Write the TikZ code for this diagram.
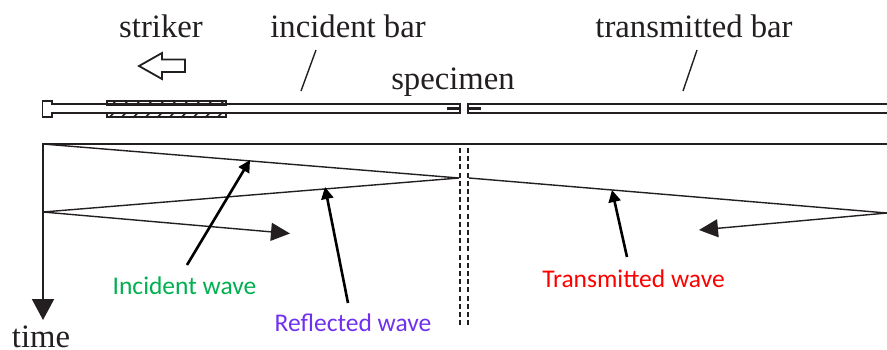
\documentclass[tikz,border=0pt]{standalone}
\usepackage{fontspec}
\setmainfont{Liberation Serif}
\newfontfamily\calib{Carlito}
\usetikzlibrary{arrows.meta}
\definecolor{inkk}{HTML}{231F20}
\definecolor{incgreen}{HTML}{00B050}
\definecolor{refpurple}{HTML}{7030F0}
\tikzset{
  x=1bp,y=-1bp,
  serlabel/.style={font=\fontsize{32.7bp}{34bp}\selectfont,text=inkk,inner sep=0pt,anchor=base},
  collabel/.style={font=\calib\fontsize{25.5bp}{27bp}\selectfont,inner sep=0pt,anchor=base},
  barline/.style={draw=inkk,line width=1.7bp},
  thickline/.style={draw=inkk,line width=2.4bp},
  waveline/.style={draw=inkk,line width=1.4bp},
  wavearrow/.style={waveline,-{Triangle[length=19bp,width=18bp]}},
  pointer/.style={draw=black,line width=2.6bp,-{Triangle[length=12bp,width=12bp]}},
  slashline/.style={draw=inkk,line width=1.4bp},
  dashline/.style={draw=inkk,line width=1.8bp,dash pattern=on 5bp off 3.2bp},
}
\begin{document}
\begin{tikzpicture}
\useasboundingbox (0,0) rectangle (887,349);
% labels
\node[serlabel] (striker) at (161,37) {striker};
\node[serlabel] (incbar) at (348,37) {incident bar};
\node[serlabel] (spec) at (453,89) {specimen};
\node[serlabel] (trbar) at (694,37) {transmitted bar};
\node[serlabel] (timel) at (41,347) {time};
\node[collabel,text=incgreen] (incw) at (184.5,294) {Incident wave};
\node[collabel,text=refpurple] (refw) at (353,331) {Reflected wave};
\node[collabel,text=red] (trw) at (633.5,287) {Transmitted wave};
% hollow arrow
\draw[barline,line width=1.8bp,fill=white] (139,66) -- (162,53) -- (162,59.5) -- (185,59.5) -- (185,72) -- (162,72) -- (162,79) -- cycle;
% striker sleeve
\draw[barline,line width=1.6bp] (107,100.7) rectangle (226,105);
\draw[barline,line width=1.6bp] (107,112.7) rectangle (226,116.7);
\foreach \xx in {112,124,136,148,160,172,184,196,208,220}{
  \draw[barline,line width=1.6bp] (\xx,105) -- (\xx+4,100.7);
  \draw[barline,line width=1.6bp] (\xx-2,116.7) -- (\xx+2,112.7);
}
% incident bar with flange
\draw[barline] (460,104) -- (52,104) -- (52,100.7) -- (42.5,100.7) -- (42.5,116.7) -- (52,116.7) -- (52,113) -- (460,113) -- cycle;
% transmitted bar
\draw[barline] (887,104) -- (468,104) -- (468,113) -- (887,113);
\draw[draw=inkk,line width=2.4bp] (447,108.5) -- (460,108.5);
\draw[draw=inkk,line width=2.4bp] (468,108.5) -- (481,108.5);
% slashes
\coordinate (s1a) at (301,91); \coordinate (s1b) at (316,50);
\coordinate (s2a) at (683,91); \coordinate (s2b) at (697,50);
\draw[slashline] (s1a) -- (s1b);
\draw[slashline] (s2a) -- (s2b);
% time axis
\coordinate (o) at (42,144);
\coordinate (e) at (887,144);
\coordinate (ta) at (43,320);
\draw[thickline] (o) -- (e);
\draw[draw=inkk,line width=2bp,-{Triangle[length=21bp,width=22bp]}] (43,143) -- (ta);
% dashed lines
\coordinate (d1a) at (460,148); \coordinate (d1b) at (460,325);
\coordinate (d2a) at (468,148); \coordinate (d2b) at (468,325);
\draw[dashline] (d1a) -- (d1b);
\draw[dashline] (d2a) -- (d2b);
% waves
\coordinate (w0) at (43,144);
\coordinate (w1) at (459,178);
\coordinate (w2) at (43,212);
\coordinate (w3) at (290,233.5);
\coordinate (w4) at (469,178);
\coordinate (w5) at (887,213);
\coordinate (w6) at (699,230);
\draw[waveline] (w0) -- (w1) -- (w2);
\draw[wavearrow] (w2) -- (w3);
\draw[waveline] (w4) -- (w5);
\draw[wavearrow] (w5) -- (w6);
% pointers
\coordinate (p1) at (187,265); \coordinate (p1t) at (250,160);
\coordinate (p2) at (348,303); \coordinate (p2t) at (325,187);
\coordinate (p3) at (627,257); \coordinate (p3t) at (612,190);
\draw[pointer] (p1) -- (p1t);
\draw[pointer] (p2) -- (p2t);
\draw[pointer] (p3) -- (p3t);
\end{tikzpicture}
\end{document}
